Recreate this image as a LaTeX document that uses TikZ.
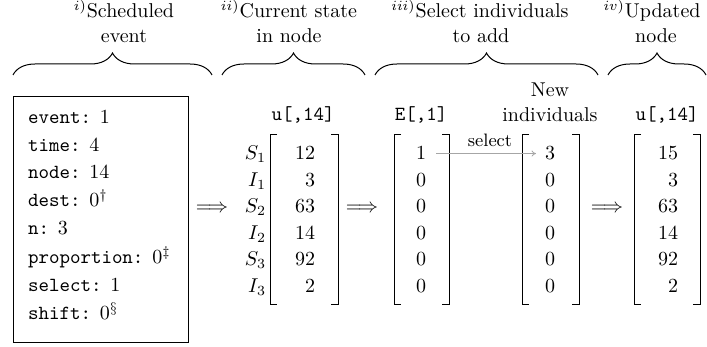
\documentclass[tikz,border=0pt]{standalone}
\usetikzlibrary{decorations.pathreplacing,arrows.meta}
\begin{document}
\begin{tikzpicture}[x=0.5pt,y=-0.5pt,
  txt/.style={inner sep=0pt,outer sep=0pt},
  hbrace/.style={decorate,decoration={brace,amplitude=11pt},line width=0.5pt},
  bracketline/.style={line width=0.5pt},
  lbl/.style={txt,font=\ttfamily},
  sel/.style={draw=black!35,line width=0.4pt,-{To[length=2.2pt,width=3pt]}}]
\useasboundingbox (0,0) rectangle (707,347);

% headings
\node[txt,anchor=base] (h1a) at (124,18) {$^{i)}$Scheduled};
\node[txt,anchor=base] (h1b) at (124,43) {event};
\node[txt,anchor=base] (h2a) at (289,18) {$^{ii)}$Current state};
\node[txt,anchor=base] (h2b) at (289,43) {in node};
\node[txt,anchor=base] (h3a) at (480,18) {$^{iii)}$Select individuals};
\node[txt,anchor=base] (h3b) at (481,43) {to add};
\node[txt,anchor=base] (h4a) at (652,18) {$^{iv)}$Updated};
\node[txt,anchor=base] (h4b) at (656,43) {node};

% braces
\coordinate (b1l) at (13,75);  \coordinate (b1r) at (212,75);
\coordinate (b2l) at (222,75); \coordinate (b2r) at (365,75);
\coordinate (b3l) at (375,75); \coordinate (b3r) at (598,75);
\coordinate (b4l) at (608,75); \coordinate (b4r) at (706,75);
\draw[hbrace] (b1l) -- (b1r);
\draw[hbrace] (b2l) -- (b2r);
\draw[hbrace] (b3l) -- (b3r);
\draw[hbrace] (b4l) -- (b4r);

% event box
\draw[line width=0.5pt] (13,97) rectangle (188,343);
\node[txt,anchor=base west] (ev1) at (28,124) {\texttt{event:} 1};
\node[txt,anchor=base west] (ev2) at (28,152) {\texttt{time:} 4};
\node[txt,anchor=base west] (ev3) at (28,179) {\texttt{node:} 14};
\node[txt,anchor=base west] (ev4) at (28,207) {\texttt{dest:} $0^{\dagger}$};
\node[txt,anchor=base west] (ev5) at (28,235) {\texttt{n:} 3};
\node[txt,anchor=base west] (ev6) at (28,264) {\texttt{proportion:} $0^{\ddagger}$};
\node[txt,anchor=base west] (ev7) at (28,292) {\texttt{select:} 1};
\node[txt,anchor=base west] (ev8) at (28,320) {\texttt{shift:} $0^{\S}$};

% implication arrows
\node[txt,anchor=base] (imp1) at (212,213) {$\Longrightarrow$};
\node[txt,anchor=base] (imp2) at (362,213) {$\Longrightarrow$};
\node[txt,anchor=base] (imp3) at (607,213) {$\Longrightarrow$};

% column labels
\node[lbl,anchor=base] (lu1) at (303,121) {u[,14]};
\node[lbl,anchor=base] (lE) at (421,121) {E[,1]};
\node[txt,anchor=base] (lnew1) at (550,97) {New};
\node[txt,anchor=base] (lnew2) at (550,122) {individuals};
\node[lbl,anchor=base] (lu2) at (667,121) {u[,14]};

% brackets
\newcommand{\mybrackets}[2]{%
  \draw[bracketline] (#1+7,135) -- (#1,135) -- (#1,305) -- (#1+7,305);
  \draw[bracketline] (#2-7,135) -- (#2,135) -- (#2,305) -- (#2-7,305);}
\mybrackets{270}{338}
\mybrackets{394}{449}
\mybrackets{522}{579}
\mybrackets{634}{700}

% row labels
\foreach \lab [count=\k from 0] in {S_1,I_1,S_2,I_2,S_3,I_3}
  \node[txt,anchor=base east] (r\k) at (266,160+26.5*\k) {$\lab$};
% current state
\foreach \v [count=\k from 0] in {12,3,63,14,92,2}
  \node[txt,anchor=base east] (u\k) at (315,160+26.5*\k) {$\v$};
% E column
\foreach \v [count=\k from 0] in {1,0,0,0,0,0}
  \node[txt,anchor=base] (e\k) at (421,160+26.5*\k) {$\v$};
% new individuals
\foreach \v [count=\k from 0] in {3,0,0,0,0,0}
  \node[txt,anchor=base] (n\k) at (550,160+26.5*\k) {$\v$};
% updated
\foreach \v [count=\k from 0] in {15,3,63,14,92,2}
  \node[txt,anchor=base east] (w\k) at (678,160+26.5*\k) {$\v$};

% select arrow
\draw[sel] ([xshift=5pt]e0.east) -- ([xshift=-4.5pt]n0.west);
\node[txt,anchor=base,font=\small] (sellbl) at (490,147) {select};
\end{tikzpicture}
\end{document}
